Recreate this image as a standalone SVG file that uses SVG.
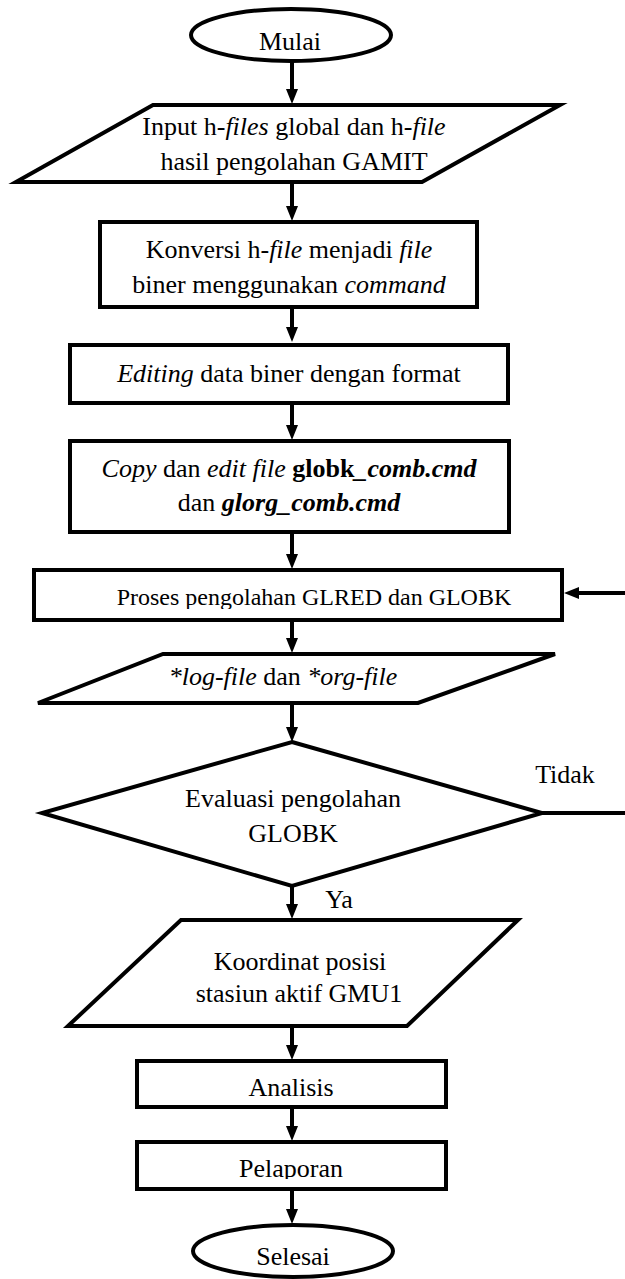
<svg xmlns="http://www.w3.org/2000/svg" width="625" height="1279" viewBox="0 0 625 1279">
<style>
.s{fill:#fff;stroke:#000;stroke-width:4}
.c{stroke:#000;stroke-width:4;fill:none}
text{font-family:"Liberation Serif","Times New Roman",serif;font-size:26px;fill:#000;text-anchor:middle}
.i{font-style:italic}
.b{font-weight:bold}
</style>
<defs>
<marker id="ah" viewBox="0 0 15 12" refX="8" refY="6" markerWidth="15" markerHeight="12" markerUnits="userSpaceOnUse" orient="auto">
<path d="M0,0 L15,6 L0,12 z" fill="#000"/>
</marker>
<clipPath id="cp1"><rect x="0" y="570" width="625" height="39"/></clipPath>
<clipPath id="cp2"><rect x="0" y="1061" width="625" height="36"/></clipPath>
<clipPath id="cp3"><rect x="0" y="1142" width="625" height="37"/></clipPath>
</defs>
<rect width="625" height="1279" fill="#fff"/>
<g id="connectors">
<line class="c" x1="292" y1="61" x2="292" y2="97" marker-end="url(#ah)"/>
<line class="c" x1="292" y1="182" x2="292" y2="214" marker-end="url(#ah)"/>
<line class="c" x1="292" y1="307" x2="292" y2="335" marker-end="url(#ah)"/>
<line class="c" x1="292" y1="403" x2="292" y2="433" marker-end="url(#ah)"/>
<line class="c" x1="292" y1="532" x2="292" y2="562" marker-end="url(#ah)"/>
<line class="c" x1="292" y1="620" x2="292" y2="646" marker-end="url(#ah)"/>
<line class="c" x1="292" y1="703" x2="292" y2="735" marker-end="url(#ah)"/>
<line class="c" x1="292" y1="886" x2="292" y2="912" marker-end="url(#ah)"/>
<line class="c" x1="292" y1="1026" x2="292" y2="1053" marker-end="url(#ah)"/>
<line class="c" x1="292" y1="1107" x2="292" y2="1134" marker-end="url(#ah)"/>
<line class="c" x1="292" y1="1189" x2="292" y2="1217" marker-end="url(#ah)"/>
<line class="c" x1="625" y1="593" x2="571" y2="593" marker-end="url(#ah)"/>
<line class="c" x1="542" y1="813" x2="625" y2="813"/>
<text x="565" y="783">Tidak</text>
<text x="339" y="908">Ya</text>
</g>
<g id="mulai">
<ellipse class="s" cx="291" cy="35" rx="100" ry="26"/>
<text x="290" y="50">Mulai</text>
</g>
<g id="input">
<polygon class="s" points="153,105 560,105 422,182 16,182"/>
<text x="294" y="135">Input h-<tspan class="i">files</tspan> global dan h-<tspan class="i">file</tspan></text>
<text x="294" y="170">hasil pengolahan GAMIT</text>
</g>
<g id="konversi">
<rect class="s" x="100" y="222" width="377" height="85"/>
<text x="289" y="258">Konversi h-<tspan class="i">file</tspan> menjadi <tspan class="i">file</tspan></text>
<text x="289" y="293">biner menggunakan <tspan class="i">command</tspan></text>
</g>
<g id="editing">
<rect class="s" x="70" y="345" width="438" height="58"/>
<text x="289" y="382"><tspan class="i">Editing</tspan> data biner dengan format</text>
</g>
<g id="copy">
<rect class="s" x="70" y="441" width="439" height="91"/>
<text x="289" y="477"><tspan class="i">Copy</tspan> dan <tspan class="i">edit file</tspan> <tspan class="b">globk<tspan class="i">_comb.cmd</tspan></tspan></text>
<text x="289" y="511">dan <tspan class="b i">glorg_comb.cmd</tspan></text>
</g>
<g id="proses">
<rect class="s" x="34" y="570" width="528" height="50"/>
<text x="314" y="605" style="font-size:24px" clip-path="url(#cp1)">Proses pengolahan GLRED dan GLOBK</text>
</g>
<g id="logfile">
<polygon class="s" points="163,654 555,654 418,703 38,703"/>
<text x="283" y="685" class="i">*log-file <tspan style="font-style:normal">dan</tspan> *org-file</text>
</g>
<g id="evaluasi">
<polygon class="s" points="292,742 542,813 292,886 42,813"/>
<text x="293" y="807">Evaluasi pengolahan</text>
<text x="293" y="842">GLOBK</text>
</g>
<g id="koordinat">
<polygon class="s" points="181,920 518,920 407,1026 68,1026"/>
<text x="300" y="970">Koordinat posisi</text>
<text x="299" y="1002">stasiun aktif GMU1</text>
</g>
<g id="analisis">
<rect class="s" x="137" y="1061" width="309" height="46"/>
<text x="291" y="1096" clip-path="url(#cp2)">Analisis</text>
</g>
<g id="pelaporan">
<rect class="s" x="137" y="1142" width="309" height="47"/>
<text x="291" y="1177" clip-path="url(#cp3)">Pelaporan</text>
</g>
<g id="selesai">
<ellipse class="s" cx="293" cy="1251" rx="100" ry="26"/>
<text x="293" y="1265">Selesai</text>
</g>
</svg>
